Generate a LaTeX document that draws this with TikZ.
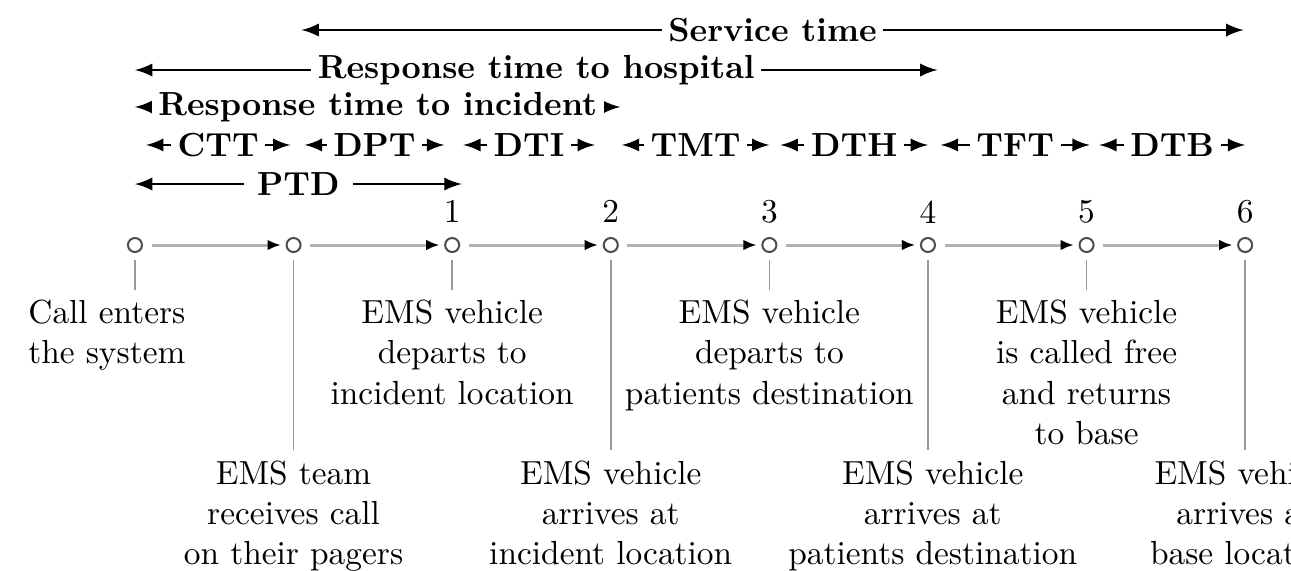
\documentclass[tikz,border=0pt]{standalone}
\usepackage{amssymb}
\usepackage{amsmath}
\usepackage{tikz}
\usetikzlibrary{arrows.meta}

\begin{document}
\begin{tikzpicture}[x=1.6694cm,y=1cm,>=latex]
            \tikzstyle{event}=[circle,draw=black!70,fill=white,minimum size=4.2pt,inner sep=0pt,semithick]
            \tikzstyle{flow}=[draw=black!30,line width=0.9pt,-{Latex[color=black,length=4pt,width=3.2pt]},shorten <=2.6pt,shorten >=1.4pt]
            \tikzstyle{drop}=[draw=black!40,line width=0.5pt,shorten <=2.2pt]
            \tikzstyle{span}=[<->,thick]
            \tikzstyle{tag}=[fill=white,font=\bfseries,inner sep=2pt]
            \tikzstyle{desc}=[align=center,anchor=north,inner sep=3pt]
            \useasboundingbox (-0.851,-3.421) rectangle (7.289,2.579);

            % events on the time line
            \foreach \num in {0,...,7}
                    \node[event] (V-\num) at (\num,0) {};
            \foreach \num in {1,...,6}
                    \node (N-\num) at (\num+1,0.35) {\num};

                \foreach \from/\to in {0/1, 1/2, 2/3, 3/4, 4/5, 5/6, 6/7}
                    \draw[flow] (V-\from) -- (V-\to);

            % descriptions
            \node[desc] (L-0) at (-0.177,-0.47) {Call enters\\the system};
            \node[desc] (L-2) at (2,-0.47) {EMS vehicle\\departs to\\incident location};
            \node[desc] (L-4) at (4,-0.47) {EMS vehicle\\departs to\\patients destination};
            \node[desc] (L-6) at (6,-0.47) {EMS vehicle\\is called free\\and returns\\to base};
            \node[desc] (L-1) at (1,-2.16) {EMS team\\receives call\\on their pagers};
            \node[desc] (L-3) at (3,-2.16) {EMS vehicle\\arrives at\\incident location};
            \node[desc] (L-5) at (5.03,-2.16) {EMS vehicle\\arrives at\\patients destination};
            \node[desc] (L-7) at (7,-2.16) {EMS vehicle\\arrives at\\base location};

                \foreach \num in {0,...,7}
                    \draw[drop] (V-\num) -- (V-\num |- L-\num.north);

            % intervals
            \foreach \txt/\a/\b in {CTT/0.07/0.98, DPT/1.07/1.95, DTI/2.07/2.9, TMT/3.07/4.0, DTH/4.07/5.0, TFT/5.08/6.02, DTB/6.08/7.0}{
                    \coordinate (\txt-l) at (\a,1.053);
                    \coordinate (\txt-r) at (\b,1.053);
                    \draw[span] (\txt-l) -- node[tag] (T-\txt) {\txt} (\txt-r);
            }

            \coordinate (ST-l) at (1.05,2.263);
            \coordinate (ST-r) at (6.99,2.263);
            \coordinate (RH-l) at (0,1.842);
            \coordinate (RH-r) at (5.06,1.842);
            \coordinate (RI-l) at (0,1.453);
            \coordinate (RI-r) at (3.06,1.453);
            \coordinate (PTD-l) at (0,0.642);
            \coordinate (PTD-r) at (2.06,0.642);

                \draw[span] (ST-l) -- node[tag] (T-ST) {Service time} (ST-r);
                \draw[span] (RH-l) -- node[tag] (T-RH) {Response time to hospital} (RH-r);
                \draw[span] (RI-l) -- node[tag] (T-RI) {Response time to incident} (RI-r);
                \draw[span] (PTD-l) -- node[tag,inner xsep=4pt] (T-PTD) {PTD} (PTD-r);
        \end{tikzpicture}
\end{document}
